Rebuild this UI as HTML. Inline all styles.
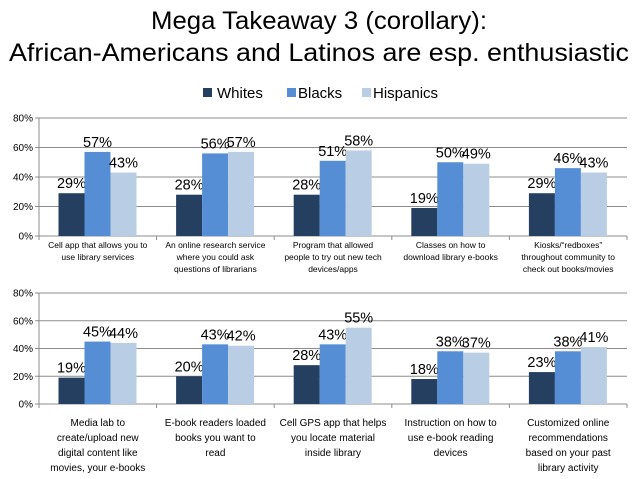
<!DOCTYPE html>
<html><head><meta charset="utf-8"><style>
body{margin:0;background:#fff;}
svg{display:block;font-family:"Liberation Sans",sans-serif;}
</style></head><body>
<svg id="s" width="638" height="479">
<text x="319" y="29" text-anchor="middle" font-size="25" textLength="336" lengthAdjust="spacingAndGlyphs">Mega Takeaway 3 (corollary):</text>
<text x="319" y="61" text-anchor="middle" font-size="25" textLength="620" lengthAdjust="spacingAndGlyphs">African-Americans and Latinos are esp. enthusiastic</text>
<g>
<rect x="203" y="88" width="9" height="9" fill="#243F60"/>
<text x="217" y="98" font-size="15">Whites</text>
<rect x="287" y="88" width="9" height="9" fill="#558ED5"/>
<text x="298" y="98" font-size="15">Blacks</text>
<rect x="362" y="88" width="9" height="9" fill="#B9CDE5"/>
<text x="373" y="98" font-size="15">Hispanics</text>
</g>
</svg>
<script>
const topCategories=[["Cell app that allows you to","use library services"],["An online research service","where you could ask","questions of librarians"],["Program that allowed","people to try out new tech","devices/apps"],["Classes on how to","download library e-books"],["Kiosks/\u201credboxes\u201d","throughout community to","check out books/movies"]];
const topWhites=[29,28,28,19,29];
const topBlacks=[57,56,51,50,46];
const topHispanics=[43,57,58,49,43];
const botCategories=[["Media lab to","create/upload new","digital content like","movies, your e-books"],["E-book readers loaded","books you want to","read"],["Cell GPS app that helps","you locate material","inside library"],["Instruction on how to","use e-book reading","devices"],["Customized online","recommendations","based on your past","library activity"]];
const botWhites=[19,20,28,18,23];
const botBlacks=[45,43,43,38,38];
const botHispanics=[44,42,55,37,41];
const yTicks=[0,20,40,60,80];
const colors=["#243F60","#558ED5","#B9CDE5"];
const names=["whites","blacks","hispanics"];
const NS="http://www.w3.org/2000/svg";
const svg=document.getElementById('s');
function mk(tag,attrs,txt){const e=document.createElementNS(NS,tag);for(const k in attrs)e.setAttribute(k,attrs[k]);if(txt!==undefined)e.textContent=txt;svg.appendChild(e);return e;}
function drawChart(prefix,cats,series,y0,y80,labFs,labY,labLh){
  const x0=39,gw=117.6;
  const yS=v=>y0-(v/80)*(y0-y80);
  yTicks.forEach(t=>{
    const y=yS(t);
    if(t>0){const l=mk('line',{x1:x0,x2:x0+gw*5,y1:y,y2:y,stroke:'#8c8c8c','stroke-width':1});
    
    }
    const tx=mk('text',{x:x0-6,y:y+3.5,'text-anchor':'end','font-size':10},t+'%');
    
    
    const tk=mk('line',{x1:x0-4,x2:x0,y1:y,y2:y,stroke:'#8c8c8c'});
    
    
  });
  const ax=mk('line',{x1:x0,x2:x0,y1:y80,y2:y0,stroke:'#8c8c8c'});
  
  
  const bx=mk('line',{x1:x0,x2:x0+gw*5,y1:y0,y2:y0,stroke:'#8c8c8c'});
  
  
  for(let i=0;i<=5;i++){const t=mk('line',{x1:x0+gw*i,x2:x0+gw*i,y1:y0,y2:y0+4,stroke:'#8c8c8c'});
    
    }
  cats.forEach((c,i)=>{
    const gx=x0+gw*i;
    series.forEach((s,j)=>{
      const bxp=gx+19.5+j*26,y=yS(s[i]);
      const r=mk('rect',{x:bxp,y:y,width:26,height:y0-y,fill:colors[j]});
      
      
      const lt=mk('text',{x:bxp+13,y:y-5,'text-anchor':'middle','font-size':15,textLength:29,lengthAdjust:'spacingAndGlyphs'},s[i]+'%');
      
      
    });
    c.forEach((line,k)=>{
      const t=mk('text',{x:gx+gw/2,y:labY+k*labLh,'text-anchor':'middle','font-size':labFs},line);
      
      
    });
  });
}
drawChart('top-chart',topCategories,[topWhites,topBlacks,topHispanics],236,118,8.5,248,12);
drawChart('bottom-chart',botCategories,[botWhites,botBlacks,botHispanics],404,293,10,426,15);
</script>
</body></html>
